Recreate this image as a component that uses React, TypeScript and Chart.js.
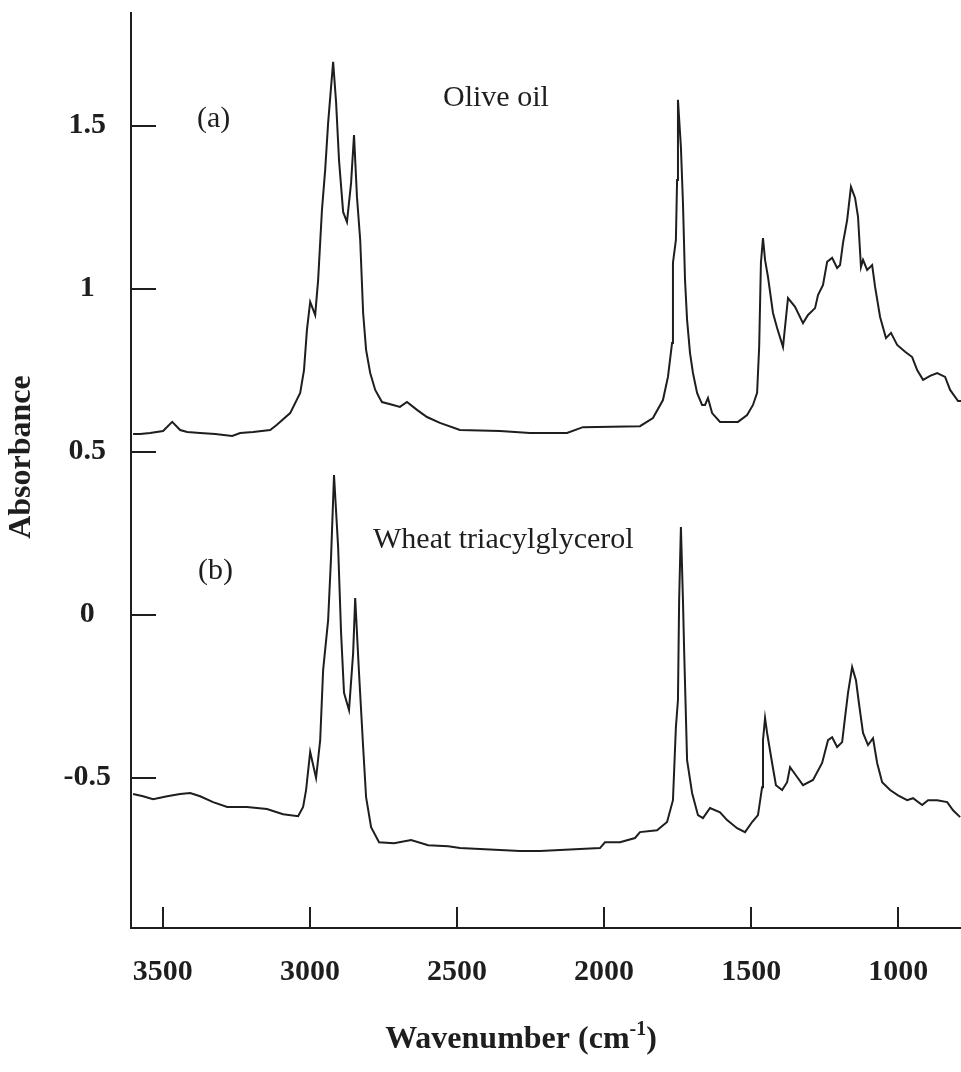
import React, { useEffect, useRef } from "react";
import { Chart, registerables } from "chart.js";

Chart.register(...registerables);

// ---- data (wavenumber in cm-1, absorbance) ----
const oliveWavenumber = [
  3601, 3577, 3543, 3499, 3468, 3441, 3417, 3373, 3322, 3264, 3237, 3193, 3135, 3112, 3067, 3033,
  3020, 3010, 2999, 2982, 2972, 2959, 2948, 2938, 2921, 2911, 2901, 2887, 2874, 2860, 2850, 2840,
  2829, 2819, 2809, 2795, 2778, 2755, 2717, 2694, 2670, 2636, 2602, 2558, 2490, 2354, 2252, 2126,
  2072, 1878, 1834, 1800, 1783, 1769, 1766, 1756, 1752, 1749, 1739, 1732, 1725, 1718, 1708, 1698,
  1684, 1667, 1657, 1647, 1633, 1606, 1545, 1514, 1494, 1480, 1473, 1467, 1460, 1453, 1443, 1426,
  1412, 1392, 1375, 1351, 1324, 1307, 1283, 1273, 1256, 1242, 1225, 1208, 1198, 1188, 1174, 1161,
  1147, 1137, 1127, 1120, 1106, 1089, 1079, 1062, 1042, 1025, 1004, 977, 953, 936, 916, 892,
  868, 841, 824, 797, 787,
];
const oliveAbsorbance = [
  0.554, 0.554, 0.557, 0.563, 0.591, 0.566, 0.56, 0.557, 0.554, 0.548, 0.557, 0.56, 0.566, 0.582, 0.618, 0.68,
  0.75, 0.873, 0.959, 0.919, 1.026, 1.241, 1.364, 1.508, 1.695, 1.572, 1.394, 1.235, 1.204, 1.324, 1.471, 1.281,
  1.149, 0.925, 0.812, 0.741, 0.689, 0.652, 0.643, 0.637, 0.652, 0.628, 0.606, 0.588, 0.566, 0.563, 0.557, 0.557,
  0.575, 0.578, 0.603, 0.658, 0.729, 0.833, 1.079, 1.149, 1.333, 1.579, 1.434, 1.263, 1.026, 0.904, 0.802, 0.741,
  0.68, 0.643, 0.643, 0.664, 0.618, 0.591, 0.591, 0.612, 0.643, 0.68, 0.821, 1.079, 1.155, 1.088, 1.036, 0.925,
  0.879, 0.821, 0.971, 0.944, 0.894, 0.919, 0.94, 0.98, 1.011, 1.082, 1.094, 1.063, 1.072, 1.14, 1.21, 1.312,
  1.278, 1.22, 1.066, 1.088, 1.057, 1.072, 1.005, 0.913, 0.848, 0.864, 0.827, 0.806, 0.79, 0.75, 0.72, 0.732,
  0.741, 0.729, 0.689, 0.655, 0.655,
];

const wheatWavenumber = [
  3601, 3567, 3533, 3485, 3441, 3407, 3373, 3329, 3281, 3214, 3146, 3091, 3040, 3023, 3013, 2999,
  2979, 2965, 2955, 2938, 2928, 2918, 2904, 2894, 2884, 2867, 2853, 2846, 2833, 2819, 2809, 2792,
  2765, 2714, 2656, 2598, 2530, 2490, 2422, 2354, 2286, 2218, 2150, 2082, 2014, 1997, 1946, 1895,
  1878, 1820, 1786, 1766, 1756, 1749, 1745, 1739, 1732, 1728, 1718, 1701, 1681, 1664, 1640, 1606,
  1582, 1548, 1521, 1497, 1477, 1463, 1460, 1453, 1446, 1429, 1416, 1395, 1378, 1368, 1344, 1324,
  1290, 1259, 1239, 1225, 1208, 1191, 1181, 1171, 1157, 1144, 1134, 1120, 1103, 1086, 1072, 1055,
  1028, 1001, 970, 950, 919, 899, 868, 834, 814, 790,
];
const wheatAbsorbance = [
  -0.55, -0.557, -0.566, -0.557, -0.55, -0.547, -0.557, -0.575, -0.59, -0.59, -0.596, -0.612, -0.618, -0.59, -0.538, -0.421,
  -0.501, -0.385, -0.17, -0.017, 0.177, 0.428, 0.207, -0.056, -0.24, -0.293, -0.118, 0.051, -0.179, -0.406, -0.56, -0.652,
  -0.698, -0.701, -0.691, -0.707, -0.71, -0.716, -0.719, -0.722, -0.725, -0.725, -0.722, -0.719, -0.716, -0.698, -0.698, -0.685,
  -0.667, -0.661, -0.636, -0.569, -0.345, -0.262, 0.045, 0.269, 0.045, -0.109, -0.446, -0.547, -0.615, -0.624, -0.593, -0.606,
  -0.63, -0.655, -0.667, -0.636, -0.615, -0.529, -0.385, -0.317, -0.363, -0.455, -0.523, -0.538, -0.514, -0.468, -0.498, -0.523,
  -0.507, -0.455, -0.385, -0.376, -0.406, -0.391, -0.314, -0.24, -0.161, -0.201, -0.271, -0.363, -0.4, -0.379, -0.455, -0.514,
  -0.538, -0.554, -0.569, -0.563, -0.584, -0.569, -0.569, -0.575, -0.6, -0.621,
];

const xTickValues = [3500, 3000, 2500, 2000, 1500, 1000];
const yTickValues = [1.5, 1, 0.5, 0, -0.5];
const xRange = [787, 3608];
const yRange = [-0.961, 1.845];

const INK = "#1e1e1e";
const SERIF = '"Liberation Serif", "Times New Roman", serif';

const decorPlugin = {
  id: "decor",
  afterDraw(chart: any) {
    const { ctx, chartArea, scales } = chart;
    ctx.save();
    ctx.strokeStyle = INK;
    ctx.lineWidth = 2;
    // inward tick marks
    scales.y.ticks.forEach((t: any) => {
      const p = Math.round(scales.y.getPixelForValue(t.value));
      ctx.beginPath();
      ctx.moveTo(chartArea.left, p);
      ctx.lineTo(chartArea.left + 25, p);
      ctx.stroke();
    });
    scales.x.ticks.forEach((t: any) => {
      const p = Math.round(scales.x.getPixelForValue(t.value));
      ctx.beginPath();
      ctx.moveTo(p, chartArea.bottom);
      ctx.lineTo(p, chartArea.bottom - 21);
      ctx.stroke();
    });

    ctx.fillStyle = INK;
    // annotations
    ctx.font = `30px ${SERIF}`;
    ctx.textAlign = "left";
    ctx.textBaseline = "alphabetic";
    ctx.fillText("(a)", 197, 127);
    ctx.fillText("Olive oil", 443, 106);
    ctx.fillText("Wheat triacylglycerol", 373, 548);
    ctx.fillText("(b)", 198, 579);

    // y axis title
    ctx.save();
    ctx.translate(22, 457);
    ctx.rotate(-Math.PI / 2);
    ctx.font = `bold 32px ${SERIF}`;
    ctx.textAlign = "center";
    ctx.textBaseline = "middle";
    ctx.fillText("Absorbance", 0, 0);
    ctx.restore();

    // x axis title with superscript
    const main = "Wavenumber (cm";
    const sup = "-1";
    const close = ")";
    ctx.textBaseline = "alphabetic";
    ctx.textAlign = "left";
    ctx.font = `bold 32px ${SERIF}`;
    const wMain = ctx.measureText(main).width;
    const wClose = ctx.measureText(close).width;
    ctx.font = `bold 20px ${SERIF}`;
    const wSup = ctx.measureText(sup).width;
    const total = wMain + wSup + wClose;
    let x0 = 521 - total / 2;
    const base = 1048;
    ctx.font = `bold 32px ${SERIF}`;
    ctx.fillText(main, x0, base);
    x0 += wMain;
    ctx.font = `bold 20px ${SERIF}`;
    ctx.fillText(sup, x0, base - 13);
    x0 += wSup;
    ctx.font = `bold 32px ${SERIF}`;
    ctx.fillText(close, x0, base);
    ctx.restore();
  },
};

export default function App() {
  const ref = useRef<HTMLCanvasElement | null>(null);

  useEffect(() => {
    if (!ref.current) return;
    const olive = oliveWavenumber.map((w, i) => ({ x: w, y: oliveAbsorbance[i] }));
    const wheat = wheatWavenumber.map((w, i) => ({ x: w, y: wheatAbsorbance[i] }));
    const chart = new Chart(ref.current, {
      type: "line",
      data: {
        datasets: [
          { label: "Olive oil", data: olive, borderColor: INK, borderWidth: 2, pointRadius: 0, tension: 0, fill: false },
          { label: "Wheat triacylglycerol", data: wheat, borderColor: INK, borderWidth: 2, pointRadius: 0, tension: 0, fill: false },
        ],
      },
      options: {
        responsive: false,
        animation: false,
        layout: { padding: { top: 13, right: 0, left: 0, bottom: 0 } },
        plugins: { legend: { display: false }, tooltip: { enabled: false }, title: { display: false } },
        scales: {
          x: {
            type: "linear",
            reverse: true,
            min: xRange[0],
            max: xRange[1],
            afterBuildTicks: (s: any) => {
              s.ticks = xTickValues.map((v) => ({ value: v }));
            },
            afterFit: (s: any) => {
              s.height = 144;
              s.paddingLeft = 0;
              s.paddingRight = 0;
            },
            grid: { display: true, drawOnChartArea: false, drawTicks: false },
            border: { display: true, color: INK, width: 2 },
            ticks: {
              padding: 26,
              color: INK,
              font: { family: SERIF, size: 30, weight: "bold" },
              maxRotation: 0,
              autoSkip: false,
              callback: (v: any) => String(v),
            },
          },
          y: {
            type: "linear",
            min: yRange[0],
            max: yRange[1],
            afterBuildTicks: (s: any) => {
              s.ticks = yTickValues.map((v) => ({ value: v }));
            },
            afterFit: (s: any) => {
              s.width = 131;
              s.paddingTop = 0;
              s.paddingBottom = 0;
            },
            grid: { display: true, drawOnChartArea: false, drawTicks: false },
            border: { display: true, color: INK, width: 2 },
            ticks: {
              padding: 20,
              crossAlign: "center",
              color: INK,
              font: { family: SERIF, size: 30, weight: "bold" },
              autoSkip: false,
              callback: (v: any) => String(v),
            },
          },
        },
      },
      plugins: [decorPlugin],
    } as any);
    return () => chart.destroy();
  }, []);

  return (
    <canvas
      ref={ref}
      width={961}
      height={1072}
      style={{ position: "fixed", left: 0, top: 0, display: "block", background: "#fff" }}
    />
  );
}
